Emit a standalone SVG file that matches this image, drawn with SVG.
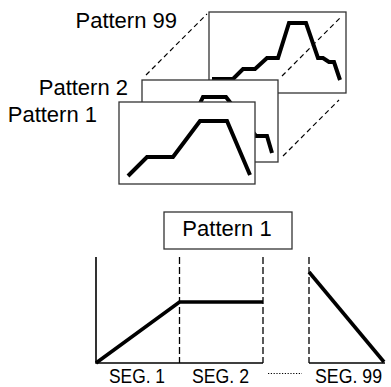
<svg xmlns="http://www.w3.org/2000/svg" width="391" height="387" viewBox="0 0 391 387">
<style>
.frame{fill:#fff;stroke:#333;stroke-width:1.3}
.curve{fill:none;stroke:#000;stroke-width:4;stroke-linejoin:miter}
.guide{fill:none;stroke:#000;stroke-width:1.2;stroke-dasharray:5,3.5}
.axis{fill:none;stroke:#000;stroke-width:1.6}
.div{fill:none;stroke:#000;stroke-width:1.3;stroke-dasharray:7,3}
.dots{fill:none;stroke:#000;stroke-width:1.2;stroke-dasharray:1.2,1.6}
.env{fill:none;stroke:#000;stroke-width:3.6}
.lbl{font-family:"Liberation Sans",Arial,sans-serif;font-size:22px;fill:#000}
.seg{font-family:"Liberation Sans",Arial,sans-serif;font-size:20.5px;fill:#000}
</style>
<g id="pattern99">
<rect class="frame" x="209" y="12" width="137" height="81"/>
<polyline class="curve" points="212,79 233,79 243,69 255,69 267,58 278,58 289,23 306,23 318,58 323,58 329,62 334,62 340,80"/>
<text class="lbl" x="177" y="27.5" text-anchor="end">Pattern 99</text>
</g>
<g id="connectors">
<line class="guide" x1="146" y1="75" x2="207" y2="14"/>
<line class="guide" x1="282" y1="76" x2="341" y2="17"/>
<line class="guide" x1="283" y1="156" x2="339" y2="100"/>
</g>
<g id="pattern2">
<rect class="frame" x="142" y="80" width="136" height="82"/>
<polyline class="curve" points="150,150 170,135 185,135 203,97 226,97 256,136 267,136 272,153"/>
<text class="lbl" x="128" y="94.5" text-anchor="end">Pattern 2</text>
</g>
<g id="pattern1">
<rect class="frame" x="119" y="102" width="136" height="82"/>
<polyline class="curve" points="128,176 147,157 173,157 200,121 227,121 250,175"/>
<text class="lbl" x="97" y="122" text-anchor="end">Pattern 1</text>
</g>
<g id="title">
<rect class="frame" x="164" y="212" width="128" height="37"/>
<text class="lbl" x="227" y="235.5" text-anchor="middle">Pattern 1</text>
</g>
<g id="envelope">
<polyline class="axis" points="96,257 96,363 263,363"/>
<line class="axis" x1="309" y1="363" x2="385" y2="363"/>
<line class="div" x1="179.5" y1="257" x2="179.5" y2="363"/>
<line class="div" x1="263" y1="257" x2="263" y2="363"/>
<line class="div" x1="309" y1="257" x2="309" y2="363"/>
<polyline class="env" points="96,363 179.5,302 263,302"/>
<line class="env" x1="309" y1="272" x2="384" y2="362"/>
<line class="dots" x1="268" y1="373.5" x2="302" y2="373.5"/>
<text class="seg" x="109" y="382.5" textLength="56" lengthAdjust="spacingAndGlyphs">SEG. 1</text>
<text class="seg" x="192" y="382.5" textLength="57" lengthAdjust="spacingAndGlyphs">SEG. 2</text>
<text class="seg" x="315" y="382.5" textLength="67" lengthAdjust="spacingAndGlyphs">SEG. 99</text>
</g>
</svg>
